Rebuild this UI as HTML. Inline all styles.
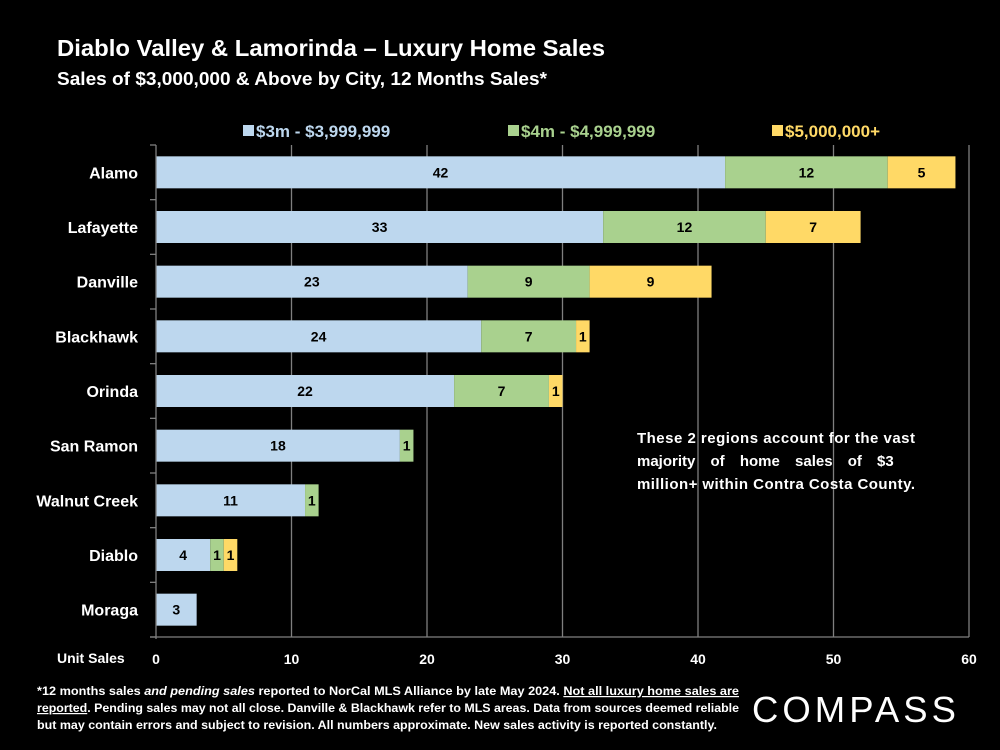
<!DOCTYPE html>
<html><head><meta charset="utf-8"><style>
html,body{margin:0;padding:0;background:#000;}
svg{display:block;font-family:"Liberation Sans",sans-serif;}
</style></head><body>
<svg id="c" width="1000" height="750" viewBox="0 0 1000 750">
<text x="57" y="56" fill="#fff" font-size="23" font-weight="bold" textLength="548" lengthAdjust="spacingAndGlyphs">Diablo Valley &amp; Lamorinda – Luxury Home Sales</text>
<text x="57" y="85" fill="#fff" font-size="18" font-weight="bold" textLength="490" lengthAdjust="spacingAndGlyphs">Sales of $3,000,000 &amp; Above by City, 12 Months Sales*</text>
<g id="legend"></g>
<g id="grid"></g>
<g id="bars"></g>
<g id="axis"></g>
<text x="637" y="443" fill="#fff" font-size="15" font-weight="bold" textLength="278" lengthAdjust="spacing">These 2 regions account for the vast</text>
<text x="637" y="466" fill="#fff" font-size="15" font-weight="bold" word-spacing="11">majority of home sales of $3</text>
<text x="637" y="489" fill="#fff" font-size="15" font-weight="bold" textLength="278" lengthAdjust="spacing">million+ within Contra Costa County.</text>
<text x="57" y="663" fill="#fff" font-size="14" font-weight="bold">Unit Sales</text>
<g fill="#fff" font-size="12" font-weight="bold">
<text x="37" y="695" textLength="702" lengthAdjust="spacingAndGlyphs">*12 months sales <tspan font-style="italic">and pending sales</tspan> reported to NorCal MLS Alliance by late May 2024. <tspan text-decoration="underline">Not all luxury home sales are</tspan></text>
<text x="37" y="712" textLength="702" lengthAdjust="spacingAndGlyphs"><tspan text-decoration="underline">reported</tspan>. Pending sales may not all close. Danville &amp; Blackhawk refer to MLS areas. Data from sources deemed reliable</text>
<text x="37" y="729" textLength="680" lengthAdjust="spacingAndGlyphs">but may contain errors and subject to revision. All numbers approximate. New sales activity is reported constantly.</text>
</g>
<text x="752" y="722" fill="#fff" font-size="36" textLength="208" lengthAdjust="spacingAndGlyphs" letter-spacing="4">COMPASS</text>
</svg>
<script>
const cities=["Alamo","Lafayette","Danville","Blackhawk","Orinda","San Ramon","Walnut Creek","Diablo","Moraga"];
const s3m=[42,33,23,24,22,18,11,4,3];
const s4m=[12,12,9,7,7,1,1,1,0];
const s5m=[5,7,9,1,1,0,0,1,0];
const seriesNames=["$3m - $3,999,999","$4m - $4,999,999","$5,000,000+"];
const xTicks=[0,10,20,30,40,50,60];
const NS="http://www.w3.org/2000/svg";
const X0=156,X1=969,XMAX=60,YT=145,YB=637;
const x=v=>X0+v/XMAX*(X1-X0);
const band=(YB-YT)/cities.length;
const yc=i=>YT+band*(i+0.5);
const colors=["#bdd7ee","#a9d18e","#ffd966"];
function mk(t,a,p){const e=document.createElementNS(NS,t);for(const k in a)e.setAttribute(k,a[k]);p.appendChild(e);return e;}
const grid=document.getElementById('grid'),bars=document.getElementById('bars'),axis=document.getElementById('axis'),lg=document.getElementById('legend');
xTicks.forEach(t=>{
 if(t>0){const l=mk('line',{x1:x(t),x2:x(t),y1:YT,y2:YB,stroke:'#7f7f7f','stroke-width':1.3},grid);
 
 }
 const tx=mk('text',{x:x(t),y:664,fill:'#fff','font-size':14,'font-weight':'bold','text-anchor':'middle'},axis);tx.textContent=t;
 
 
});
mk('line',{x1:X0,x2:X0,y1:YT,y2:YB+2,stroke:'#7f7f7f','stroke-width':1.3},axis);
mk('line',{x1:X0-6,x2:X1,y1:YB,y2:YB,stroke:'#7f7f7f','stroke-width':1.3},axis);
for(let i=0;i<=cities.length;i++)mk('line',{x1:X0-6,x2:X0,y1:YT+band*i,y2:YT+band*i,stroke:'#7f7f7f','stroke-width':1.3},axis);
const series=[s3m,s4m,s5m];
cities.forEach((c,i)=>{
 const lab=mk('text',{x:138,y:yc(i)+6,fill:'#fff','font-size':16,'font-weight':'bold','text-anchor':'end'},axis);lab.textContent=c;
 
 
 let acc=0;
 series.forEach((s,k)=>{
  const v=s[i];if(!v)return;
  const r=mk('rect',{x:x(acc),y:yc(i)-16,width:x(acc+v)-x(acc),height:32,fill:colors[k]},bars);
  
  
  const t=mk('text',{x:(x(acc)+x(acc+v))/2,y:yc(i)+5,fill:'#000','font-size':14,'font-weight':'bold','text-anchor':'middle'},bars);t.textContent=v;
  
  
  acc+=v;
 });
});
const lx=[243,508,772];
seriesNames.forEach((n,k)=>{
 const r=mk('rect',{x:lx[k],y:125,width:11,height:11,fill:colors[k]},lg);
 
 
 const t=mk('text',{x:lx[k]+13,y:137,fill:colors[k],'font-size':17,'font-weight':'bold'},lg);t.textContent=n;
 
 
});
</script>
</body></html>
